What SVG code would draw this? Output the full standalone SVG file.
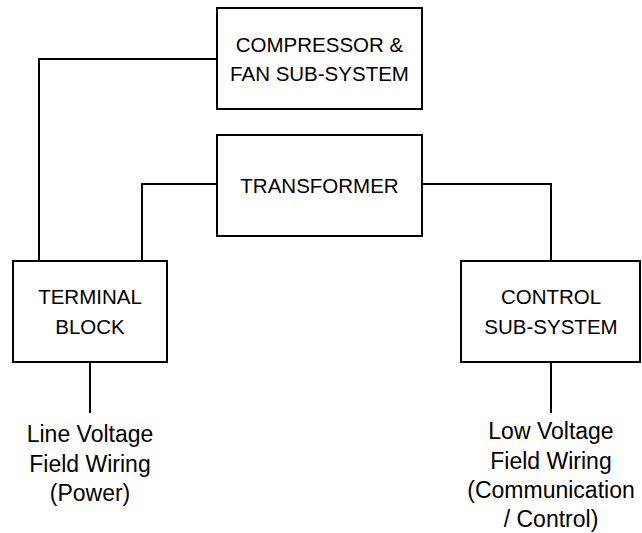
<svg xmlns="http://www.w3.org/2000/svg" width="642" height="533" viewBox="0 0 642 533">
<style>
.box{fill:#fff;stroke:#000;stroke-width:2}
.wire{fill:none;stroke:#000;stroke-width:2}
text{font-family:"Liberation Sans",Arial,sans-serif;fill:#000;text-anchor:middle}
.cap{font-size:20.5px}
.low{font-size:23px}
</style>
<rect width="642" height="533" fill="#fff"/>
<g id="connectors">
<polyline class="wire" points="217,59 39,59 39,261"/>
<polyline class="wire" points="217,184 142,184 142,261"/>
<polyline class="wire" points="422,184 551,184 551,261"/>
<line class="wire" x1="90" y1="362" x2="90" y2="413"/>
<line class="wire" x1="551" y1="362" x2="551" y2="413"/>
</g>
<g id="compressor">
<rect class="box" x="217" y="8" width="205" height="101"/>
<text class="cap" x="319.5" y="52">COMPRESSOR &amp;</text>
<text class="cap" x="319.5" y="81">FAN SUB-SYSTEM</text>
</g>
<g id="transformer">
<rect class="box" x="217" y="135" width="205" height="101"/>
<text class="cap" x="319.5" y="193">TRANSFORMER</text>
</g>
<g id="terminal">
<rect class="box" x="13" y="261" width="154" height="101"/>
<text class="cap" x="90" y="304">TERMINAL</text>
<text class="cap" x="90" y="334">BLOCK</text>
</g>
<g id="control">
<rect class="box" x="461" y="261" width="179" height="101"/>
<text class="cap" x="551" y="304">CONTROL</text>
<text class="cap" x="551" y="334">SUB-SYSTEM</text>
</g>
<g id="line-voltage">
<text class="low" x="90" y="442">Line Voltage</text>
<text class="low" x="90" y="472">Field Wiring</text>
<text class="low" x="90" y="501">(Power)</text>
</g>
<g id="low-voltage">
<text class="low" x="551" y="439">Low Voltage</text>
<text class="low" x="551" y="468.5">Field Wiring</text>
<text class="low" x="551" y="498">(Communication</text>
<text class="low" x="551" y="527">/ Control)</text>
</g>
</svg>
